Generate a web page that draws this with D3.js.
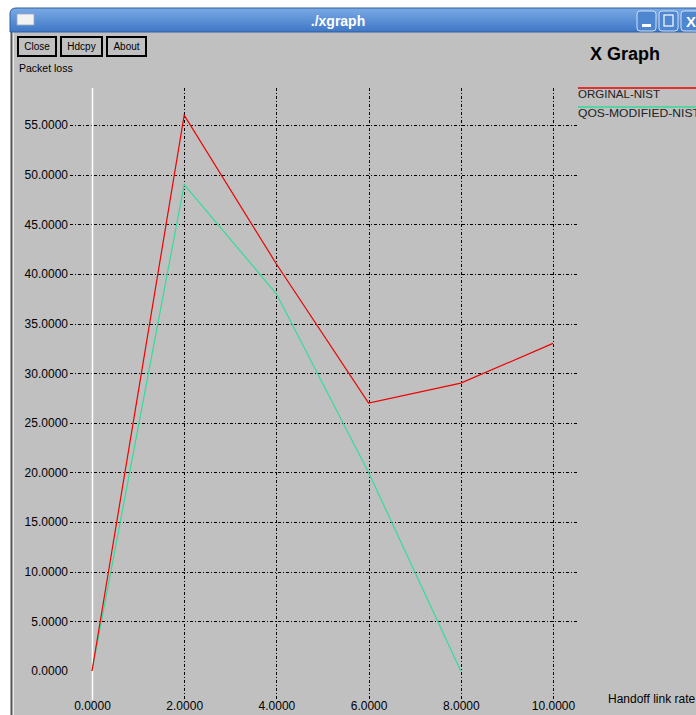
<!DOCTYPE html>
<html><head><meta charset="utf-8">
<script src="https://cdn.jsdelivr.net/npm/d3@7"></script>
<style>html,body{margin:0;padding:0;background:#fff;overflow:hidden}</style>
</head><body>
<svg id="c" width="696" height="715"></svg>
<script>
const xValues = [0, 2, 4, 6, 8, 10];
const originalNist = [0, 56, 41, 27, 29, 33];
const qosXValues = [0, 2, 4, 6, 8];
const qosModifiedNist = [0, 49, 38, 20, 0];
const xTicks = [0, 2, 4, 6, 8, 10];
const yTicks = [0, 5, 10, 15, 20, 25, 30, 35, 40, 45, 50, 55];
const seriesNames = ["ORGINAL-NIST", "QOS-MODIFIED-NIST"];
const seriesColors = ["#ee0000", "#33dd99"];

const svg = d3.select("#c");
const defs = svg.append("defs");
const g1 = defs.append("linearGradient").attr("id","tb").attr("x1",0).attr("y1",0).attr("x2",0).attr("y2",1);
g1.append("stop").attr("offset","0%").attr("stop-color","#7aaae6");
g1.append("stop").attr("offset","100%").attr("stop-color","#3f77c6");

// window body
svg.append("rect").attr("x",10).attr("y",8).attr("width",700).attr("height",720).attr("rx",5).attr("fill","#c0c0c0");
svg.append("rect").attr("x",10).attr("y",32).attr("width",700).attr("height",690).attr("fill","#c0c0c0");
svg.append("line").attr("x1",11.5).attr("x2",11.5).attr("y1",30).attr("y2",715).attr("stroke","#555").attr("stroke-width",1.5);
svg.append("line").attr("x1",13.5).attr("x2",13.5).attr("y1",32).attr("y2",715).attr("stroke","#e8e8e8").attr("stroke-width",1);
// title bar
svg.append("path").attr("d","M10,32 L10,14 Q10,8 16,8 L700,8 L700,32 Z").attr("fill","url(#tb)").attr("stroke","#2f5f9f");
svg.append("rect").attr("x",17).attr("y",14).attr("width",17).attr("height",11).attr("fill","#f2f2f2").attr("stroke","#9ab").attr("stroke-width",0.8);
svg.append("text").attr("x",338).attr("y",26).attr("text-anchor","middle").attr("font-family","Liberation Sans, Arial").attr("font-weight","bold").attr("font-size",14).attr("fill","#fff").text("./xgraph");
[[637,"min"],[659,"max"],[681,"close"]].forEach(([bx,t])=>{
  svg.append("rect").attr("x",bx).attr("y",11).attr("width",19).attr("height",20).attr("rx",3).attr("fill","#4f86d0").attr("stroke","#cfe0f5").attr("stroke-width",1);
  if(t==="min") svg.append("rect").attr("x",bx+5).attr("y",24).attr("width",9).attr("height",3).attr("fill","#fff");
  if(t==="max") svg.append("rect").attr("x",bx+5).attr("y",15).attr("width",9).attr("height",11).attr("fill","none").attr("stroke","#fff").attr("stroke-width",1.2);
  if(t==="close") svg.append("text").attr("x",bx+10).attr("y",27).attr("text-anchor","middle").attr("font-family","Liberation Sans, Arial").attr("font-weight","bold").attr("font-size",15).attr("fill","#fff").text("X");
});

// buttons
[["Close",17,40],["Hdcpy",60,43],["About",106,41]].forEach(([t,bx,w])=>{
  svg.append("rect").attr("x",bx+1).attr("y",37).attr("width",w-2).attr("height",19).attr("fill","#c0c0c0").attr("stroke","#000").attr("stroke-width",2);
  svg.append("text").attr("x",bx+w/2).attr("y",50).attr("text-anchor","middle").attr("font-family","Liberation Sans, Arial").attr("font-size",10).attr("fill","#000").text(t);
});
svg.append("text").attr("x",19).attr("y",72).attr("font-family","Liberation Sans, Arial").attr("font-size",10.5).attr("fill","#000").text("Packet loss");
svg.append("text").attr("x",590).attr("y",60).attr("font-family","Liberation Sans, Arial").attr("font-weight","bold").attr("font-size",18).attr("fill","#000").text("X Graph");

// scales
const x = d3.scaleLinear().domain([0,10]).range([92,553]);
const y = d3.scaleLinear().domain([0,55]).range([671,125]);

// grid
const dash = "3,2,1,2";
svg.append("g").selectAll("line").data(yTicks.filter(d=>d!==0)).join("line")
  .attr("x1",70).attr("x2",577).attr("y1",d=>Math.round(y(d))+0.5).attr("y2",d=>Math.round(y(d))+0.5)
  .attr("stroke","#000").attr("stroke-width",1).attr("stroke-dasharray",dash);
svg.append("g").selectAll("line").data(xTicks.filter(d=>d!==0)).join("line")
  .attr("x1",d=>Math.round(x(d))+0.5).attr("x2",d=>Math.round(x(d))+0.5).attr("y1",88).attr("y2",700)
  .attr("stroke","#000").attr("stroke-width",1).attr("stroke-dasharray",dash);
svg.append("line").attr("x1",x(0)+0.5).attr("x2",x(0)+0.5).attr("y1",88).attr("y2",700).attr("stroke","#fff").attr("stroke-width",1.5);

// axes labels
const yAxis = d3.axisLeft(y).tickValues(yTicks).tickFormat(d3.format(".4f")).tickSize(0).tickPadding(0);
const ya = svg.append("g").attr("transform","translate(68,0)").call(yAxis);
ya.select(".domain").remove();
ya.selectAll("text").attr("font-family","Liberation Sans, Arial").attr("font-size",12).attr("fill","#000");
const xAxis = d3.axisBottom(x).tickValues(xTicks).tickFormat(d3.format(".4f")).tickSize(0).tickPadding(0);
const xa = svg.append("g").attr("transform","translate(0,701)").call(xAxis);
xa.select(".domain").remove();
xa.selectAll("text").attr("font-family","Liberation Sans, Arial").attr("font-size",12).attr("fill","#000");
svg.append("text").attr("x",608).attr("y",703).attr("font-family","Liberation Sans, Arial").attr("font-size",12).attr("fill","#000").text("Handoff link rate");

// lines
const line = d3.line().x(d=>x(d[0])).y(d=>y(d[1]));
svg.append("path").datum(qosXValues.map((v,i)=>[v,qosModifiedNist[i]])).attr("d",line).attr("fill","none").attr("stroke",seriesColors[1]).attr("stroke-width",1.2);
svg.append("path").datum(xValues.map((v,i)=>[v,originalNist[i]])).attr("d",line).attr("fill","none").attr("stroke",seriesColors[0]).attr("stroke-width",1.2);

// legend
seriesNames.forEach((n,i)=>{
  const ly = 88 + i*19;
  svg.append("line").attr("x1",578).attr("x2",700).attr("y1",ly).attr("y2",ly).attr("stroke",seriesColors[i]).attr("stroke-width",1.5);
  svg.append("text").attr("x",578).attr("y",ly+10).attr("font-family","Liberation Sans, Arial").attr("font-size",11.5)
    .attr("textLength", i===0?82:122).attr("lengthAdjust","spacingAndGlyphs").attr("fill","#222").text(n);
});
</script>
</body></html>
